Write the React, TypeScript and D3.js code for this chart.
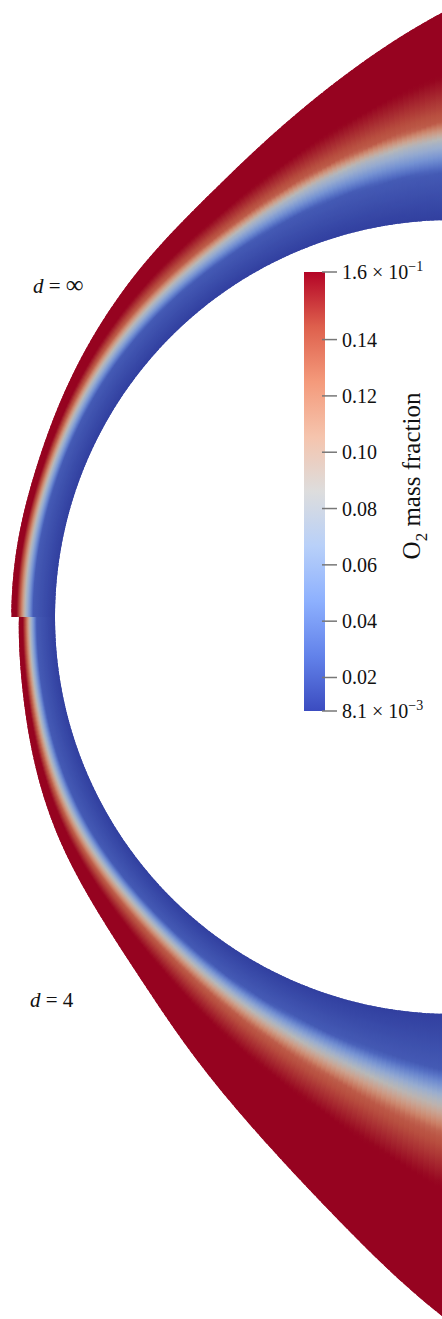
import React from "react";
import * as d3 from "d3";

const W = 442;
const H = 1319;

// circular nose of the body (figure pixels)
const bodyCenter = { x: 452, y: 617 };
const bodyRadius = 397;

// stations along the body, degrees from the stagnation line
const stationAngles = [0, 10, 20, 30, 40, 50, 60, 70, 80, 90];

// shock radius / body radius at each station
const shockInf = [1.11, 1.11, 1.11, 1.127, 1.152, 1.183, 1.22, 1.295, 1.4, 1.535];
const shock4 = [1.091, 1.095, 1.115, 1.138, 1.158, 1.2, 1.283, 1.39, 1.545, 1.78];

// where the O2 contours sit across the layer (0 = wall, 1 = shock)
const contourLevels = [0.02, 0.08, 0.14, 0.164];
const inf02 = [0.5, 0.5, 0.49, 0.45, 0.4, 0.35, 0.31, 0.29, 0.26, 0.23];
const inf08 = [0.67, 0.67, 0.66, 0.62, 0.56, 0.5, 0.47, 0.45, 0.42, 0.38];
const inf14 = [0.8, 0.8, 0.79, 0.75, 0.69, 0.62, 0.57, 0.54, 0.5, 0.47];
const infMax = [0.88, 0.88, 0.87, 0.85, 0.82, 0.78, 0.75, 0.73, 0.71, 0.69];
const d402 = [0.51, 0.5, 0.47, 0.42, 0.34, 0.28, 0.24, 0.21, 0.2, 0.19];
const d408 = [0.68, 0.67, 0.63, 0.57, 0.47, 0.4, 0.35, 0.32, 0.3, 0.29];
const d414 = [0.81, 0.8, 0.77, 0.71, 0.61, 0.52, 0.46, 0.43, 0.41, 0.4];
const d4Max = [0.89, 0.88, 0.86, 0.83, 0.77, 0.71, 0.66, 0.62, 0.59, 0.57];

// colour bar
const vMin = 0.0081;
const vMax = 0.164;
const tickValues = [0.02, 0.04, 0.06, 0.08, 0.1, 0.12, 0.14];
const coolWarm = ["#3b4cc0", "#6282ea", "#8db0fe", "#b8d0f9", "#dddddd", "#f5c4ad", "#f49a7b", "#de604d", "#b40426"];

const serif = "'Liberation Serif', 'Times New Roman', serif";

export default function App() {
  const xs = d3.scaleLinear().domain([-1, 0]).range([bodyCenter.x - bodyRadius, bodyCenter.x]);
  const ys = d3.scaleLinear().domain([0, 1]).range([bodyCenter.y, bodyCenter.y + bodyRadius]);
  const colour = d3
    .scaleLinear<string>()
    .domain(coolWarm.map((_, i) => vMin + (i * (vMax - vMin)) / (coolWarm.length - 1)))
    .range(coolWarm)
    .interpolate(d3.interpolateRgb);
  // field is lit in the render, so it reads a bit darker than the bar
  const shaded = (v: number) => d3.color(colour(v))!.darker(0.52).formatHex();

  const halves = [
    { id: "inf", dir: -1, shock: shockInf, c: [inf02, inf08, inf14, infMax] },
    { id: "d4", dir: 1, shock: shock4, c: [d402, d408, d414, d4Max] },
  ];

  const steps = 150;
  const maxAngle = (d3.max(stationAngles)! * Math.PI) / 180;

  const cells = halves.flatMap((h) => {
    const rShock = d3.interpolateBasis(h.shock);
    const cont = h.c.map((a) => d3.interpolateBasis(a));
    const pt = (r: number, t: number) => {
      const a = t * maxAngle;
      return [xs(-r * Math.cos(a)), ys(h.dir * r * Math.sin(a))];
    };
    return d3.range(steps).map((i) => {
      const t0 = i / steps;
      // overlap the next cell a little so no hairline seams show
      const t1 = Math.min(1, (i + 1.8) / steps);
      const tm = (i + 0.5) / steps;
      const w0 = pt(1, t0);
      const w1 = pt(1, t1);
      const s0 = pt(rShock(t0), t0);
      const s1 = pt(rShock(t1), t1);
      const value = d3
        .scaleLinear()
        .domain([0, ...cont.map((f) => f(tm)), 1])
        .range([vMin, ...contourLevels, vMax])
        .clamp(true);
      const stops = d3.range(0, 49).map((k) => ({ o: k / 48, c: shaded(value(k / 48)) }));
      const wm = pt(1, tm);
      const sm = pt(rShock(tm), tm);
      return {
        id: `${h.id}-${i}`,
        points: [w0, w1, s1, s0].map((p) => p.join(",")).join(" "),
        x1: wm[0],
        y1: wm[1],
        x2: sm[0],
        y2: sm[1],
        stops,
      };
    });
  });

  const barX = 304;
  const barW = 21;
  const cbY = d3.scaleLinear().domain([vMin, vMax]).range([711, 272]);

  return (
    <svg
      width={W}
      height={H}
      style={{ position: "absolute", left: 0, top: 0, background: "#fff" }}
      fontFamily={serif}
    >
      <defs>
        {cells.map((c) => (
          <linearGradient key={c.id} id={`g-${c.id}`} gradientUnits="userSpaceOnUse" x1={c.x1} y1={c.y1} x2={c.x2} y2={c.y2}>
            {c.stops.map((s, k) => (
              <stop key={k} offset={s.o} stopColor={s.c} />
            ))}
          </linearGradient>
        ))}
        <linearGradient id="cbar" x1="0" y1="1" x2="0" y2="0">
          {coolWarm.map((c, i) => (
            <stop key={i} offset={i / (coolWarm.length - 1)} stopColor={c} />
          ))}
        </linearGradient>
      </defs>

      {cells.map((c) => (
        <polygon key={c.id} points={c.points} fill={`url(#g-${c.id})`} />
      ))}

      <text x={33} y={293} fontSize={21} fill="#111">
        <tspan fontStyle="italic">d</tspan> = <tspan fontSize={25}>∞</tspan>
      </text>
      <text x={30} y={1007} fontSize={21} fill="#111">
        <tspan fontStyle="italic">d</tspan> = 4
      </text>

      <rect x={barX} y={cbY(vMax)} width={barW} height={cbY(vMin) - cbY(vMax)} fill="url(#cbar)" />
      {[vMin, ...tickValues, vMax].map((v) => (
        <line key={v} x1={barX + barW - 3} x2={barX + barW + 12} y1={cbY(v)} y2={cbY(v)} stroke="#777" strokeWidth={1.5} />
      ))}
      {tickValues.map((v) => (
        <text key={v} x={342} y={cbY(v)} dy="0.35em" fontSize={20} fill="#111">
          {d3.format(".2f")(v)}
        </text>
      ))}
      <text x={342} y={cbY(vMax)} dy="0.35em" fontSize={20} fill="#111">
        1.6 × 10
        <tspan dy={-8} fontSize={14}>−1</tspan>
      </text>
      <text x={342} y={cbY(vMin)} dy="0.35em" fontSize={20} fill="#111">
        8.1 × 10
        <tspan dy={-8} fontSize={14}>−3</tspan>
      </text>

      <text transform="translate(420,476) rotate(-90)" textAnchor="middle" fontSize={25} fill="#111">
        O
        <tspan dy={7} fontSize={17}>2</tspan>
        <tspan dy={-7}> mass fraction</tspan>
      </text>
    </svg>
  );
}
